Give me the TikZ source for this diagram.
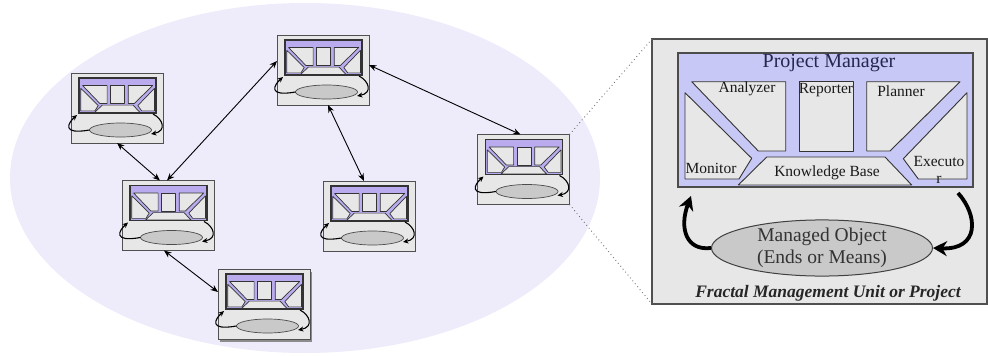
\documentclass[tikz,border=0pt]{standalone}
\usepackage{fontspec}
\setmainfont{Liberation Serif}
\usetikzlibrary{arrows.meta,calc,shadows,shapes.geometric}
\definecolor{bgell}{HTML}{EEEBFA}
\definecolor{boxgray}{HTML}{E7E7E7}
\definecolor{pmblue}{HTML}{C8C8F6}
\definecolor{pmviolet}{HTML}{B9ABEE}
\definecolor{edgegray}{HTML}{505050}
\definecolor{navy}{HTML}{26264E}
\definecolor{objgray}{HTML}{C9C9C9}
\newcommand\pmstructure{%
  \fill[pmfill] (0,0) rectangle (295,134);
  \draw[comp] (13.7,28.7) -- (107.7,28.7) -- (107.7,98) -- (80.3,98) -- cycle;
  \draw[comp] (121,28.7) rectangle (175.3,98);
  \draw[comp] (188.7,28.7) -- (282,28.7) -- (212,98) -- (188.7,98) -- cycle;
  \draw[comp] (7,39.7) -- (73.7,105.3) -- (61,126) -- (7,126) -- cycle;
  \draw[comp] (88.7,104) -- (207,104) -- (233.7,132) -- (60.3,132) -- cycle;
  \draw[comp] (289,39.7) -- (289,126) -- (240.3,126) -- (225.3,105.7) -- cycle;
  \draw[pmborder] (0,0) rectangle (295,134);
}
\tikzset{
  pmfill/.style={fill=pmblue},
  comp/.style={fill=boxgray, draw=black!80, line width=0.9pt, line join=round},
  pmborder/.style={draw=black!70, line width=1.2pt},
  unitbox/.style={draw=edgegray, fill=boxgray, line width=1pt, minimum width=92pt, minimum height=70pt, inner sep=0pt, outer sep=0pt},
  panelbox/.style={draw=edgegray, fill=boxgray, line width=1.2pt, minimum width=335pt, minimum height=265pt, inner sep=0pt, outer sep=0pt},
  smallobj/.style={draw=black!70, fill=objgray, line width=0.7pt},
  smallloop/.style={draw=black, line width=1.1pt, -{Stealth[length=5.5pt,width=5pt]}},
  link/.style={draw=black, line width=0.9pt, {Stealth[length=7.5pt,width=6pt]}-{Stealth[length=7.5pt,width=6pt]}},
  bigloop/.style={draw=black, line width=3.8pt, -{Stealth[length=14pt,width=15pt]}},
  dotline/.style={draw=black!55, line width=1pt, dash pattern=on 0.8pt off 3pt},
  lbl/.style={font=\fontsize{15.5}{18}\selectfont, text=black!90, inner sep=0pt},
  unit/.pic={
    \begin{scope}[shift={(8,5)},scale=0.261,pmfill/.style={fill=pmviolet},comp/.append style={line width=0.7pt},pmborder/.append style={line width=1.8pt,draw=black!80}]
      \pmstructure
    \end{scope}
    \draw[smallobj] (49.5,57) ellipse [x radius=31,y radius=7];
    \draw[smallloop] (18.5,57) .. controls (-10,62) and (-3,50) .. (6,42);
    \draw[smallloop] (82,41) .. controls (92,46) and (96,58) .. (80,61);
  }
}
\begin{document}
\begin{tikzpicture}[x=1pt,y=-1pt]
\useasboundingbox (0,0) rectangle (988,356);
\fill[bgell] (305,178) ellipse [x radius=295, y radius=175];
% units
\node[unitbox] (u1) at (117,108) {};
\pic at (u1.north west) {unit};
\node[unitbox] (u2) at (323,70) {};
\pic at (u2.north west) {unit};
\node[unitbox] (u3) at (523.5,169.5) {};
\pic at (u3.north west) {unit};
\node[unitbox] (u4) at (168,215.5) {};
\pic at (u4.north west) {unit};
\node[unitbox] (u5) at (369,216) {};
\pic at (u5.north west) {unit};
\node[unitbox, drop shadow={shadow xshift=1.5pt, shadow yshift=-2.5pt, fill=black!45, opacity=1}] (u6) at (264,304) {};
\pic at (u6.north west) {unit};
% links
\draw[link] (u1.south) -- ($(u4.north)+(-8,0)$);
\draw[link] ($(u4.north)+(-1,0)$) -- ($(u2.west)+(0,-9)$);
\draw[link] ($(u2.east)+(0,-5)$) -- ($(u3.north)+(-3,0)$);
\draw[link] ($(u2.south)+(5,0)$) -- ($(u5.north)+(-5,0)$);
\draw[link] ($(u4.south)+(-4,0)$) -- ($(u6.west)+(0,-12)$);
% panel
\node[panelbox] (panel) at (819.5,171.5) {};
\draw[dotline] (u3.north east) -- (panel.north west);
\draw[dotline] (u3.south east) -- (panel.south west);
\begin{scope}[shift={(678,53)}]
  \pmstructure
\end{scope}
\node[font=\fontsize{20}{22}\selectfont, text=navy, inner sep=0pt] (pmt) at (829,63) {Project Manager};
\node[lbl] (ana) at (747,89) {Analyzer};
\node[lbl] (rep) at (826,90) {Reporter};
\node[lbl] (pla) at (901,91) {Planner};
\node[lbl] (mon) at (711,168) {Monitor};
\node[lbl] (kb) at (827,173) {Knowledge Base};
\node[lbl, align=center, font=\fontsize{15.5}{17}\selectfont] (exe) at (939,170) {Executo\\r};
\node[ellipse, draw=black!75, fill=objgray, line width=1pt, minimum width=221pt, minimum height=55pt, inner sep=0pt, align=center, text=black!80, font=\fontsize{19.5}{22}\selectfont] (obj) at (822,248) {Managed Object\\(Ends or Means)};
\coordinate (exeout) at (958,193);
\coordinate (monin) at (691,196);
\draw[bigloop] (obj.west) .. controls (686,251) and (679,228) .. (monin);
\draw[bigloop] (exeout) .. controls (978,215) and (980,250) .. (obj.east);
\node[font=\fontsize{17.5}{19}\selectfont\bfseries\itshape, text=black!85, inner sep=0pt] (title) at (828,293) {Fractal Management Unit or Project};
\end{tikzpicture}
\end{document}
